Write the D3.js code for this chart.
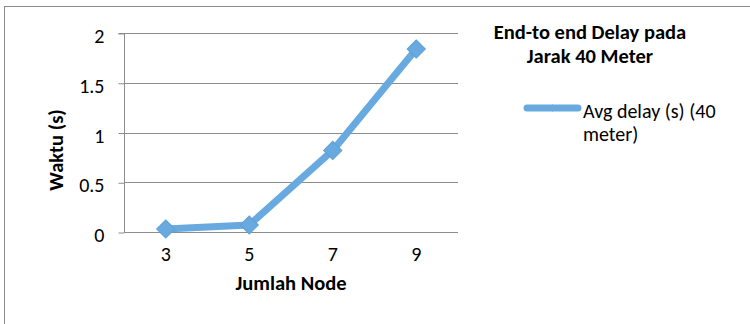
<!DOCTYPE html>
<html>
<head>
<meta charset="utf-8">
<script src="https://cdn.jsdelivr.net/npm/d3@7"></script>
<style>
  html, body { margin: 0; padding: 0; background: #fff; }
  svg { display: block; }
  text { font-family: Carlito, "Open Sans", "Liberation Sans", sans-serif; fill: #000; }
</style>
</head>
<body>
<svg id="chart" width="750" height="324"></svg>
<script>
// Average end-to-end delay versus number of nodes at 40 m distance
const nodes = ["3", "5", "7", "9"];
const avgDelay = [0.03, 0.07, 0.82, 1.84];
const yTicks = [0, 0.5, 1, 1.5, 2];
const titleLines = ["End-to end Delay pada", "Jarak 40 Meter"];
const legendLines = ["Avg delay (s) (40", "meter)"];
const seriesColor = "#68aadf";
const fontStack = 'Carlito, "Open Sans", "Liberation Sans", sans-serif';

const svg = d3.select("#chart");

// chart area frame (runs off the right/bottom edges)
svg.append("rect")
  .attr("x", 4.5).attr("y", 6.5)
  .attr("width", 800).attr("height", 400)
  .attr("fill", "#fff").attr("stroke", "#8c8c8c").attr("stroke-width", 1);

const plot = { left: 124, right: 458, top: 33, bottom: 232 };

const x = d3.scaleBand().domain(nodes).range([plot.left, plot.right]);
const y = d3.scaleLinear().domain([0, 2]).range([plot.bottom, plot.top]);

// horizontal gridlines
svg.append("g")
  .selectAll("line").data(yTicks).join("line")
  .attr("x1", plot.left).attr("x2", plot.right)
  .attr("y1", d => Math.round(y(d)) + 0.5).attr("y2", d => Math.round(y(d)) + 0.5)
  .attr("stroke", "#8c8c8c").attr("stroke-width", 1);

// y axis
const yAxis = d3.axisLeft(y).tickValues(yTicks).tickSize(6).tickPadding(14)
  .tickFormat(d => String(d));
const gy = svg.append("g").attr("transform", `translate(${plot.left + 0.5},0.5)`).call(yAxis);
gy.select(".domain").attr("stroke", "#8c8c8c").attr("d", `M-6,${plot.top}H0V${plot.bottom}`);
gy.selectAll(".tick line").attr("stroke", "#8c8c8c");
gy.selectAll(".tick text").attr("font-size", 20).attr("dy", "0.45em")
  .style("font-family", fontStack).attr("fill", "#000");

// x axis labels
const xAxis = d3.axisBottom(x).tickSize(0).tickPadding(20);
const gx = svg.append("g").attr("transform", `translate(0,${plot.bottom})`).call(xAxis);
gx.select(".domain").remove();
gx.selectAll(".tick text").attr("font-size", 20).attr("dy", "0.45em")
  .style("font-family", fontStack).attr("fill", "#000");

// axis titles
svg.append("text")
  .attr("x", (plot.left + plot.right) / 2).attr("y", 290)
  .attr("text-anchor", "middle").attr("font-size", 20.5).attr("font-weight", "bold")
  .text("Jumlah Node");
svg.append("text")
  .attr("transform", "translate(63,150) rotate(-90)")
  .attr("text-anchor", "middle").attr("font-size", 20.5).attr("font-weight", "bold")
  .text("Waktu (s)");

// series line
const pts = nodes.map((n, i) => [x(n) + x.bandwidth() / 2, y(avgDelay[i])]);
svg.append("path")
  .attr("d", d3.line()(pts))
  .attr("fill", "none").attr("stroke", seriesColor).attr("stroke-width", 7)
  .attr("stroke-linejoin", "round").attr("stroke-linecap", "round");

// diamond markers
const diamond = d3.symbol().type(d3.symbolSquare).size(165);
svg.append("g").selectAll("path").data(pts).join("path")
  .attr("d", diamond())
  .attr("transform", d => `translate(${d[0]},${d[1]}) rotate(45)`)
  .attr("fill", seriesColor).attr("stroke", "#5e9fd6").attr("stroke-width", 1);

// chart title
svg.append("text")
  .attr("text-anchor", "middle").attr("font-size", 20.5).attr("font-weight", "bold")
  .selectAll("tspan").data(titleLines).join("tspan")
  .attr("x", 590).attr("y", (d, i) => 39 + i * 24)
  .text(d => d);

// legend
const ly = 108;
svg.append("line")
  .attr("x1", 527).attr("x2", 578).attr("y1", ly).attr("y2", ly)
  .attr("stroke", seriesColor).attr("stroke-width", 7).attr("stroke-linecap", "round");
svg.append("path")
  .attr("d", d3.symbol().type(d3.symbolSquare).size(30)())
  .attr("transform", `translate(552.5,${ly}) rotate(45)`)
  .attr("fill", seriesColor);
svg.append("g").selectAll("text").data(legendLines).join("text")
  .attr("font-size", 20)
  .attr("x", 583).attr("y", (d, i) => 117.5 + i * 23.5)
  .text(d => d);
</script>
</body>
</html>
